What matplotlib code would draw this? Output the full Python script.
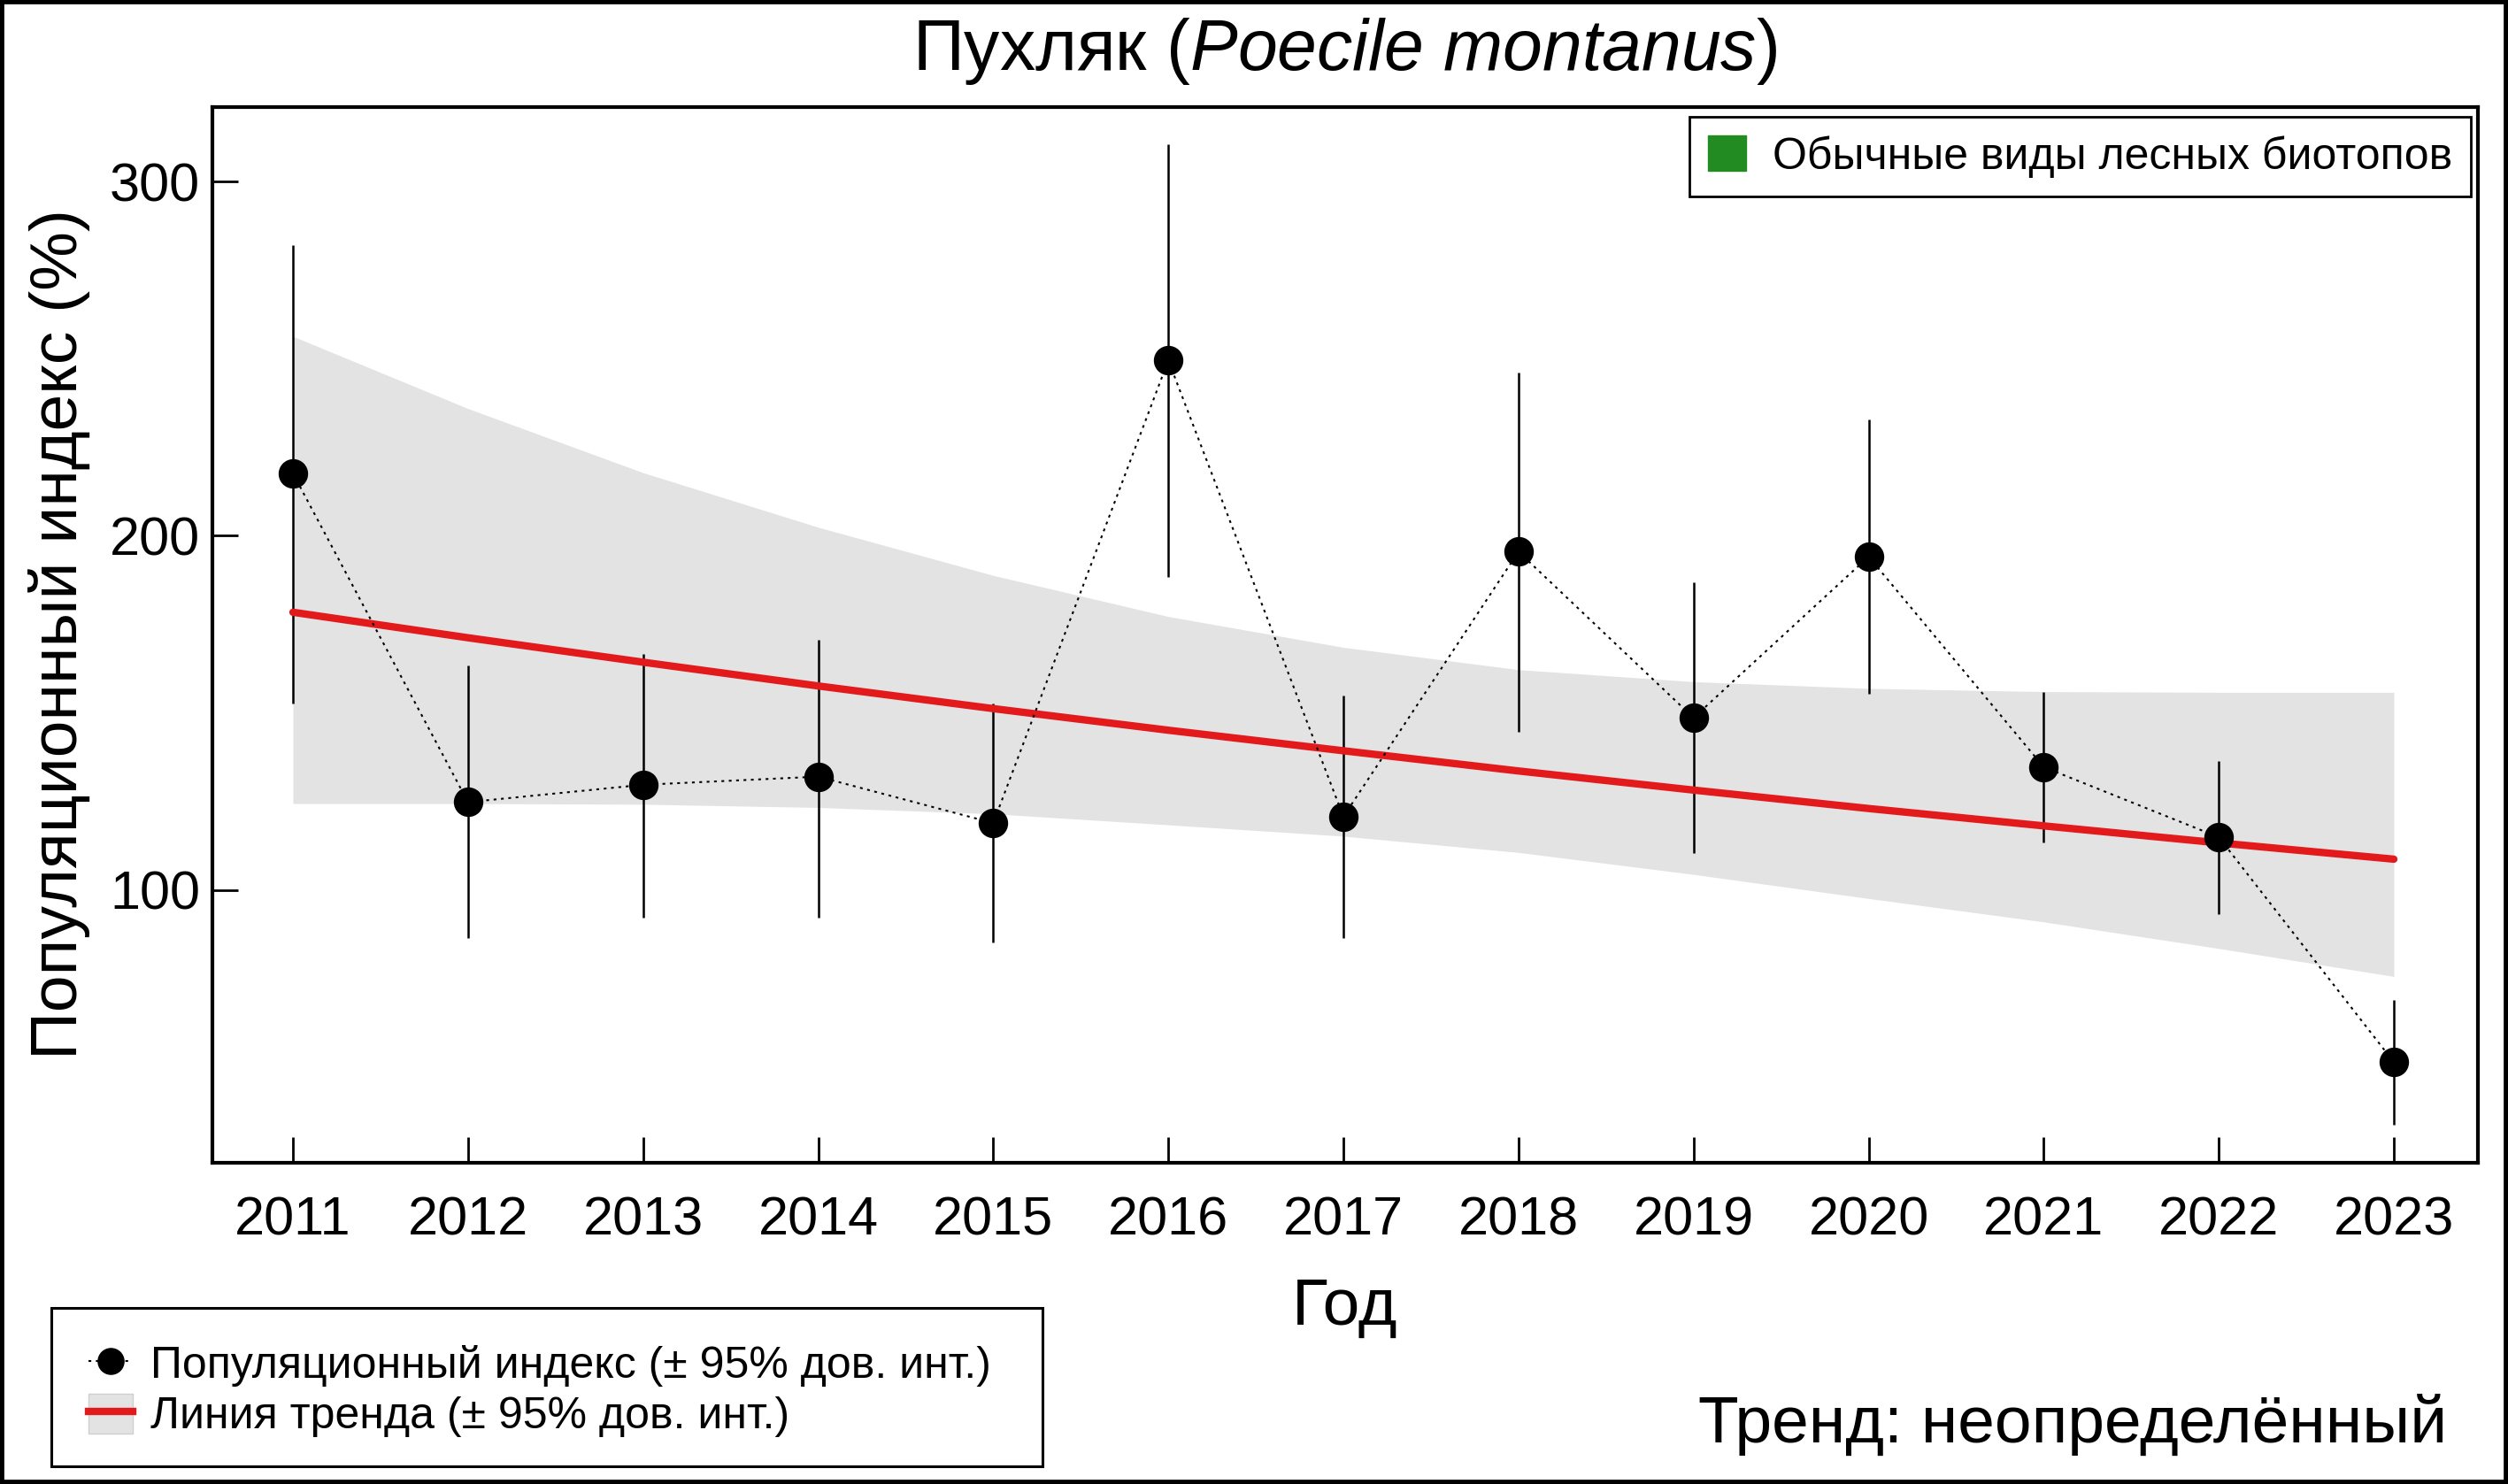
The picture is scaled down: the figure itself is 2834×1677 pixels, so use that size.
import matplotlib
matplotlib.use('Agg')
import matplotlib.pyplot as plt
from matplotlib.patches import Patch, Rectangle
from matplotlib.lines import Line2D

plt.rcParams['font.family'] = ['Liberation Sans', 'DejaVu Sans']
plt.rcParams['mathtext.fontset'] = 'custom'
plt.rcParams['mathtext.rm'] = 'Liberation Sans'
plt.rcParams['mathtext.it'] = 'Liberation Sans:italic'

years = [2011, 2012, 2013, 2014, 2015, 2016, 2017, 2018, 2019, 2020, 2021, 2022, 2023]
index = [217.6, 124.8, 129.7, 132.0, 118.9, 249.5, 120.7, 195.5, 148.6, 194.1, 134.7, 114.9, 51.4]
ci_hi = [282.0, 163.5, 166.7, 170.7, 152.7, 310.4, 155.0, 246.0, 186.9, 232.9, 155.9, 136.5, 68.9]
ci_lo = [152.7, 86.5, 92.3, 92.3, 85.1, 188.3, 86.5, 144.6, 110.4, 155.4, 113.5, 93.2, 33.8]

trend = [178.4, 171.2, 164.3, 157.6, 151.2, 145.1, 139.3, 133.6, 128.2, 123.0, 118.1, 113.3, 108.7]
trend_hi = [256.3, 235.9, 217.8, 202.4, 188.8, 177.2, 168.5, 162.2, 158.8, 156.9, 156.0, 155.8, 155.8]
trend_lo = [124.4, 124.4, 124.2, 123.3, 121.5, 118.4, 115.2, 110.6, 104.4, 97.6, 91.0, 83.5, 75.6]

W, H = 2834, 1677
fig = plt.figure(figsize=(W / 100, H / 100), dpi=100)
ax = fig.add_axes([240 / W, 1 - 1314 / H, (2800 - 240) / W, (1314 - 121) / H])

ax.fill_between(years, trend_lo, trend_hi, color='#e3e3e3', lw=0, zorder=1)
ax.plot(years, trend, color='#e31a1c', lw=6, solid_capstyle='round', zorder=3)
ax.vlines(years, ci_lo, ci_hi, color='black', lw=1.8, zorder=2)
ax.plot(years, index, color='black', ls=(0, (1.5, 2.5)), lw=1.5, zorder=4)
ax.plot(years, index, 'o', color='black', ms=23, zorder=5)

ax.set_xlim(2010.54, 2023.48)
ax.set_ylim(23, 321)
ax.set_xticks(years)
ax.set_xticklabels([str(y) for y in years])
ax.set_yticks([100, 200, 300])
ax.tick_params(direction='in', length=21, width=2, labelsize=44, colors='black')
ax.tick_params(axis='x', pad=27)
ax.tick_params(axis='y', pad=10)
for s in ax.spines.values():
    s.set_linewidth(3)

fig.text(1520 / W, 1 - 58 / H, 'Пухляк ($\\mathit{Poecile\\ montanus}$)',
         ha='center', va='center', fontsize=58)
fig.text(1520 / W, 1 - 1478 / H, 'Год', ha='center', va='center', fontsize=54)
fig.text(67 / W, 1 - 717 / H, 'Популяционный индекс (%)', ha='center', va='center',
         rotation=90, fontsize=54)
fig.text(2765 / W, 1 - 1610 / H, 'Тренд: неопределённый', ha='right', va='center',
         fontsize=54)

# legend: group
leg1 = fig.legend(handles=[Patch(facecolor='#228b22', edgecolor='#228b22')],
                  labels=['Обычные виды лесных биотопов'],
                  loc='upper right', bbox_to_anchor=(2792 / W, 1 - 132 / H),
                  fontsize=36, fancybox=False, edgecolor='black', framealpha=1,
                  handlelength=0.85, handleheight=0.85, handletextpad=0.6,
                  borderpad=0.42, borderaxespad=0)
leg1.get_frame().set_linewidth(2)

# legend: index + trend
fig.patches.append(Rectangle((58 / W, 1 - 1657 / H), (1178 - 58) / W, (1657 - 1478) / H,
                             transform=fig.transFigure, facecolor='white',
                             edgecolor='black', lw=2.2, zorder=0))
h1 = Line2D([], [], color='black', ls=(0, (1.5, 2.5)), lw=1.5, marker='o', ms=21)
h2 = (Patch(facecolor='#e3e3e3', edgecolor='#cfcfcf'),
      Line2D([], [], color='#e31a1c', lw=6))
leg2 = fig.legend(handles=[h1, h2],
                  labels=['Популяционный индекс (± 95% дов. инт.)',
                          'Линия тренда (± 95% дов. инт.)'],
                  loc='center left', bbox_to_anchor=(100 / W, 1 - 1571 / H),
                  fontsize=36, frameon=False, handlelength=1.0, handleheight=1.0,
                  handletextpad=0.4, labelspacing=0.15, borderpad=0, borderaxespad=0,
                  numpoints=1)

# outer frame
fig.patches.append(Rectangle((0, 0), 1, 1, transform=fig.transFigure, fill=False,
                             edgecolor='black', lw=7, zorder=10))

fig.savefig('out.png', dpi=100)
